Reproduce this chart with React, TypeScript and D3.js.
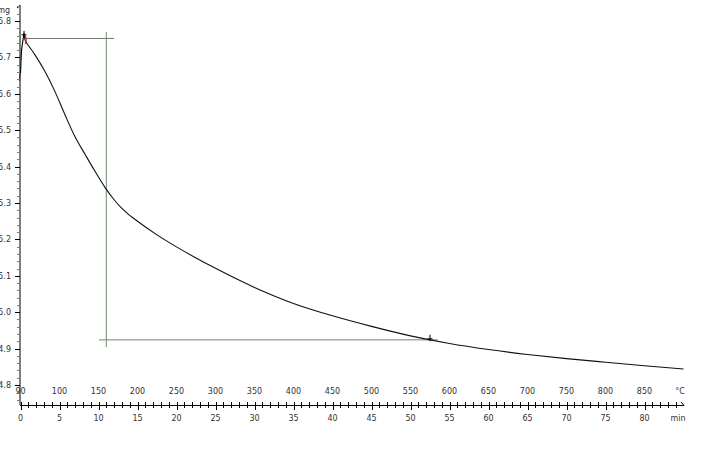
import React from "react";
import * as d3 from "d3";

// Time (min) and mass (mg) of the TGA curve
const curveTime = [0, 0.13, 0.45, 0.58, 0.8, 1.86, 3.14, 4.42, 5.71, 6.99, 8.27, 9.55, 10.83, 12, 13, 14, 15, 17.5, 20, 22.5, 25, 30, 35, 40, 45, 50, 55, 60, 65, 70, 75, 80, 85];
const curveMass = [5.657, 5.72, 5.767, 5.748, 5.739, 5.707, 5.661, 5.606, 5.542, 5.482, 5.434, 5.387, 5.343, 5.309, 5.285, 5.266, 5.25, 5.2125, 5.1795, 5.149, 5.1205, 5.068, 5.024, 4.99, 4.961, 4.935, 4.914, 4.8975, 4.884, 4.8725, 4.8625, 4.853, 4.844];

// red highlighted bits
const redStartTime = [-0.1, -0.1, 0.0];
const redStartMass = [5.636, 5.648, 5.657];
const redPeakTime = [0.5, 0.65, 0.72, 0.68, 0.6];
const redPeakMass = [5.762, 5.757, 5.748, 5.741, 5.737];

// Axis labels
const massTicks = [4.8, 4.9, 5.0, 5.1, 5.2, 5.3, 5.4, 5.5, 5.6, 5.7, 5.8];
const massLabels = ["4.8", "4.9", "5.0", "5.1", "5.2", "5.3", "5.4", "5.5", "5.6", "5.7", "5.8"];
const timeTicks = [0, 5, 10, 15, 20, 25, 30, 35, 40, 45, 50, 55, 60, 65, 70, 75, 80];
const timeLabels = ["0", "5", "10", "15", "20", "25", "30", "35", "40", "45", "50", "55", "60", "65", "70", "75", "80"];
const tempLabels = ["90", "100", "150", "200", "250", "300", "350", "400", "450", "500", "550", "600", "650", "700", "750", "800", "850"];

// Evaluation lines
const stepTop = 5.752;
const stepBottom = 4.924;
const stepTime = 11.0;
const stepEndTime = 52.5;
const peakMarkTime = 0.45;
const peakMarkMass = 5.762;

export default function App() {
  const W = 717, H = 450;
  const x = d3.scaleLinear().domain([0, 85]).range([20.5, 683.5]);
  const y = d3.scaleLinear().domain([4.8, 5.8]).range([385, 21]);
  const axisX = 20;
  const axisY = 405;

  const pts = curveTime.map((t, i) => [t, curveMass[i]] as [number, number]);
  const line = d3.line<[number, number]>().x(d => x(d[0])).y(d => y(d[1])).curve(d3.curveLinear);
  const smooth = d3.line<[number, number]>().x(d => x(d[0])).y(d => y(d[1])).curve(d3.curveMonotoneX);
  const startPart = pts.slice(0, 5);
  const restPart = pts.slice(4);

  const redA = redStartTime.map((t, i) => [t, redStartMass[i]] as [number, number]);
  const redB = redPeakTime.map((t, i) => [t, redPeakMass[i]] as [number, number]);
  const redLine = d3.line<[number, number]>().x(d => x(d[0])).y(d => y(d[1])).curve(d3.curveCatmullRom);

  const minorMass = d3.range(4.76, 5.85, 0.02);
  const minorTime = d3.range(0, 85, 1);

  const font = "DejaVu Sans, Verdana, sans-serif";
  const txt = "#333";
  const green = "#6b8a6b";

  const mark = (t: number, m: number) => {
    const cx = x(t), cy = y(m);
    return (
      <g stroke="#000" strokeWidth={1}>
        <line x1={cx - 2.5} x2={cx + 2.5} y1={cy} y2={cy} />
        <line x1={cx} x2={cx} y1={cy - 4} y2={cy + 2.5} />
      </g>
    );
  };

  return (
    <div style={{ position: "absolute", left: 0, top: 0 }}>
      <svg width={W} height={H} style={{ display: "block", background: "#fff" }}>
        {/* evaluation lines */}
        <line x1={x(0.55)} x2={x(12.0)} y1={y(stepTop)} y2={y(stepTop)} stroke="#777" strokeWidth={1} />
        <line x1={x(stepTime)} x2={x(stepTime)} y1={y(5.77)} y2={y(4.904)} stroke={green} strokeWidth={1} />
        <line x1={x(10.06)} x2={x(53.5)} y1={y(stepBottom)} y2={y(stepBottom)} stroke={green} strokeWidth={1} />

        {/* curve */}
        <path d={line(startPart) || ""} fill="none" stroke="#000" strokeWidth={1.1} />
        <path d={smooth(restPart) || ""} fill="none" stroke="#111" strokeWidth={1.1} />
        <path d={line(redA) || ""} fill="none" stroke="#e02020" strokeWidth={1.2} />
        <path d={redLine(redB) || ""} fill="none" stroke="#e02020" strokeWidth={1.2} />
        {mark(peakMarkTime, peakMarkMass)}
        {mark(stepEndTime, stepBottom + 0.003)}

        {/* y axis */}
        <line x1={axisX} x2={axisX} y1={5} y2={axisY} stroke="#000" strokeWidth={1} />
        <line x1={axisX} x2={axisX - 3} y1={5.5} y2={8} stroke="#000" strokeWidth={1} />
        {minorMass.map((m, i) => (
          <line key={"ym" + i} x1={axisX - 3} x2={axisX} y1={Math.round(y(m)) + 0.5} y2={Math.round(y(m)) + 0.5} stroke={green} strokeWidth={1} />
        ))}
        {massTicks.map((m, i) => (
          <line key={"yM" + i} x1={axisX - 5} x2={axisX} y1={Math.round(y(m)) + 0.5} y2={Math.round(y(m)) + 0.5} stroke="#000" strokeWidth={1} />
        ))}
        {massTicks.map((m, i) => (
          <text key={"yl" + i} x={11} y={y(m) + 3} textAnchor="end" fontFamily={font} fontSize={8} fill={txt}>{massLabels[i]}</text>
        ))}
        <text x={10} y={13} textAnchor="end" fontFamily={font} fontSize={8} fill={txt}>mg</text>

        {/* x axis */}
        <line x1={axisX} x2={684} y1={axisY + 0.5} y2={axisY + 0.5} stroke="#000" strokeWidth={1} />
        <line x1={684} x2={681} y1={axisY + 0.5} y2={axisY - 3} stroke="#000" strokeWidth={1} />
        {minorTime.map((t, i) => (
          <line key={"xm" + i} x1={Math.round(x(t)) + 0.5} x2={Math.round(x(t)) + 0.5} y1={axisY - 3} y2={axisY + 3} stroke="#000" strokeWidth={1} />
        ))}
        {timeTicks.map((t, i) => (
          <line key={"xM" + i} x1={Math.round(x(t)) + 0.5} x2={Math.round(x(t)) + 0.5} y1={axisY - 3} y2={axisY + 5} stroke="#000" strokeWidth={1} />
        ))}
        {timeTicks.map((t, i) => (
          <text key={"xt" + i} x={x(t)} y={394} textAnchor="middle" fontFamily={font} fontSize={8} fill={txt}>{tempLabels[i]}</text>
        ))}
        {timeTicks.map((t, i) => (
          <text key={"xb" + i} x={x(t)} y={421} textAnchor="middle" fontFamily={font} fontSize={8} fill={txt}>{timeLabels[i]}</text>
        ))}
        <text x={680} y={394} textAnchor="middle" fontFamily={font} fontSize={8} fill={txt}>°C</text>
        <text x={678} y={421} textAnchor="middle" fontFamily={font} fontSize={8} fill={txt}>min</text>
      </svg>
    </div>
  );
}
